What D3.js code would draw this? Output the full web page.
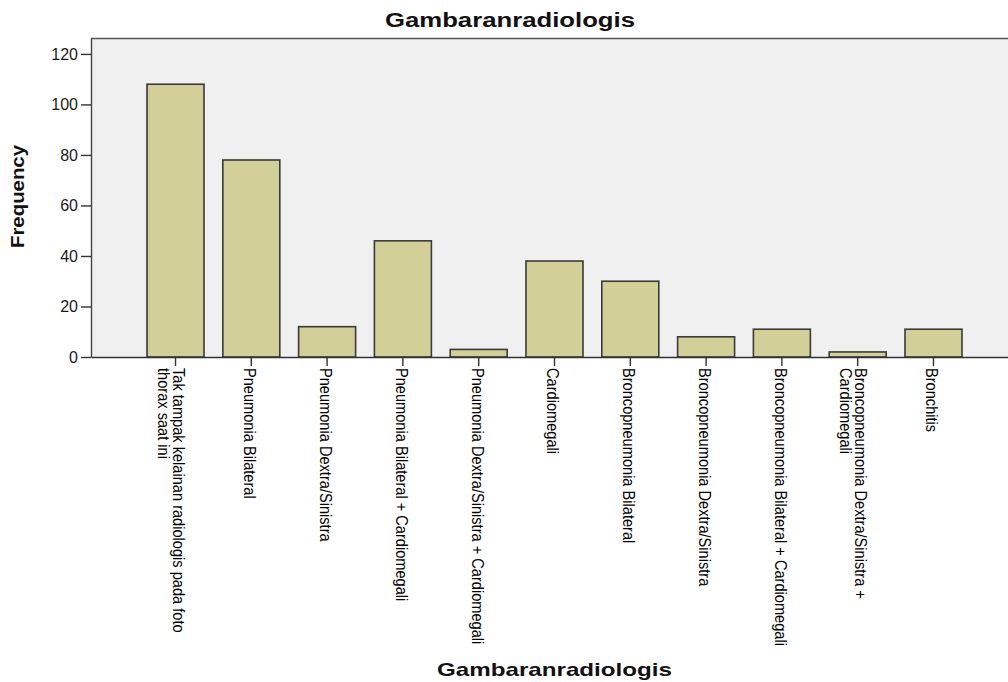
<!DOCTYPE html>
<html><head><meta charset="utf-8">
<script src="https://cdn.jsdelivr.net/npm/d3@7"></script>
<style>body{margin:0;background:#fff;overflow:hidden}</style>
</head><body><svg id="c" width="1008" height="682"></svg>
<script>
const categories = [
  "Tak tampak kelainan radiologis pada foto thorax saat ini",
  "Pneumonia Bilateral",
  "Pneumonia Dextra/Sinistra",
  "Pneumonia Bilateral + Cardiomegali",
  "Pneumonia Dextra/Sinistra + Cardiomegali",
  "Cardiomegali",
  "Broncopneumonia Bilateral",
  "Broncopneumonia Dextra/Sinistra",
  "Broncopneumonia Bilateral + Cardiomegali",
  "Broncopneumonia Dextra/Sinistra + Cardiomegali",
  "Bronchitis"
];
const frequencies = [108, 78, 12, 46, 3, 38, 30, 8, 11, 2, 11];
const yTicks = [0, 20, 40, 60, 80, 100, 120];
const chartTitle = "Gambaranradiologis";
const xTitle = "Gambaranradiologis";
const yTitle = "Frequency";

const svg = d3.select("#c");
const L = 91, T = 38, B = 357, R = 1018;
const font = "'Liberation Sans', Arial, sans-serif";

const x = d3.scaleBand().domain(categories).range([L, R]).paddingInner(0.248).paddingOuter(0.739);
const y = d3.scaleLinear().domain([0, 126.3]).range([B, T]);

// plot background
svg.append("rect").attr("x", L).attr("y", T).attr("width", R - L).attr("height", B - T).attr("fill", "#f0f0f0");
svg.append("line").attr("x1", L).attr("x2", R).attr("y1", T + 0.5).attr("y2", T + 0.5).attr("stroke", "#555").attr("stroke-width", 1.4);

// bars
svg.append("g").selectAll("rect").data(categories).join("rect")
  .attr("x", d => x(d))
  .attr("y", (d, i) => y(frequencies[i]))
  .attr("width", x.bandwidth())
  .attr("height", (d, i) => B - y(frequencies[i]))
  .attr("fill", "#d3cf98")
  .attr("stroke", "#3a3a3a")
  .attr("stroke-width", 1.6);

// y axis
const ya = svg.append("g").attr("transform", `translate(${L},0)`)
  .call(d3.axisLeft(y).tickValues(yTicks).tickSize(10).tickSizeOuter(0).tickPadding(3));
ya.select(".domain").attr("stroke", "#444").attr("stroke-width", 1.4);
ya.selectAll(".tick line").attr("stroke", "#333").attr("stroke-width", 1.4);
ya.selectAll(".tick text").attr("font-family", font).attr("font-size", 16).attr("fill", "#1a1a1a");

// x axis
const xa = svg.append("g").attr("transform", `translate(0,${B})`)
  .call(d3.axisBottom(x).tickSize(9).tickSizeOuter(0));
xa.select(".domain").attr("stroke", "#333").attr("stroke-width", 1.4);
xa.selectAll(".tick line").attr("stroke", "#333").attr("stroke-width", 1.4);
xa.selectAll(".tick text").remove();

const maxLen = 295;
xa.selectAll(".tick").each(function (d) {
  const g = d3.select(this);
  const t = g.append("text")
    .attr("font-family", font).attr("font-size", 14.6).attr("fill", "#000")
    .attr("text-anchor", "start");
  const words = d.split(" ");
  let lines = [], cur = [];
  const probe = t.append("tspan");
  words.forEach(w => {
    const test = cur.concat([w]).join(" ");
    probe.text(test);
    if (probe.node().getComputedTextLength() > maxLen && cur.length) {
      lines.push(cur.join(" "));
      cur = [w];
    } else cur.push(w);
  });
  lines.push(cur.join(" "));
  probe.remove();
  const off = lines.length > 1 ? 3 : -1.5;
  const sy = 1.12;
  const b0 = (5.5 - off) / sy;
  t.attr("transform", `rotate(90) scale(1,${sy})`);
  lines.forEach((ln, i) => {
    t.append("tspan").attr("x", 11).attr("y", b0 + i * 15 / sy).text(ln);
  });
});

// titles
svg.append("text").attr("x", 510).attr("y", 27).attr("text-anchor", "middle")
  .attr("font-family", font).attr("font-weight", "bold").attr("font-size", 20)
  .attr("textLength", 250).attr("lengthAdjust", "spacingAndGlyphs")
  .attr("fill", "#111").text(chartTitle);
svg.append("text").attr("x", (L + R) / 2).attr("y", 676).attr("text-anchor", "middle")
  .attr("font-family", font).attr("font-weight", "bold").attr("font-size", 19)
  .attr("textLength", 235).attr("lengthAdjust", "spacingAndGlyphs")
  .attr("fill", "#111").text(xTitle);
svg.append("text").attr("transform", "translate(24,196.5) rotate(-90)").attr("text-anchor", "middle")
  .attr("font-family", font).attr("font-weight", "bold").attr("font-size", 18)
  .attr("textLength", 103).attr("lengthAdjust", "spacingAndGlyphs")
  .attr("fill", "#111").text(yTitle);
</script></body></html>
